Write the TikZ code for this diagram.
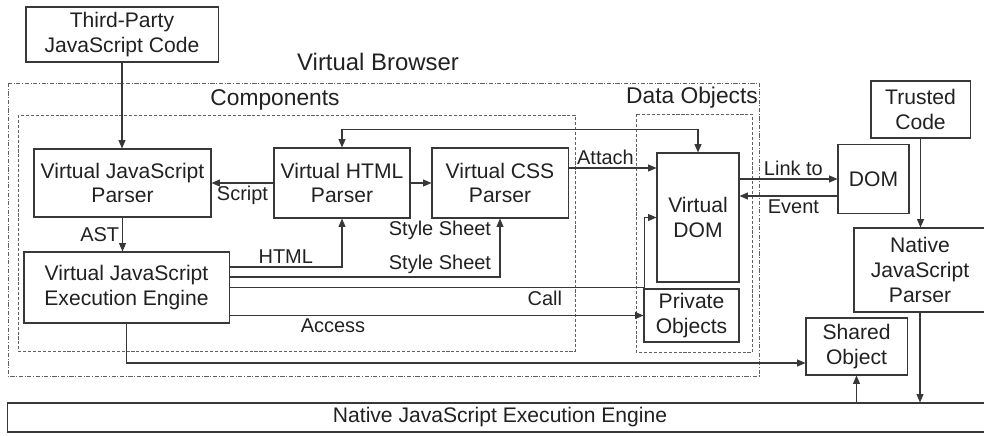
\documentclass[tikz,border=0pt]{standalone}
\usepackage{fontspec}
\setmainfont{Liberation Sans}
\usetikzlibrary{arrows.meta, calc, positioning}
\definecolor{mainBlack}{gray}{0.13}
\definecolor{lineGray}{gray}{0.22}

\begin{document}
\begin{tikzpicture}[x=0.025cm, y=-0.025cm, >={Triangle[length=6pt, width=5pt]},
    box/.style={draw=lineGray, line width=0.75pt, align=center, inner sep=0pt, text=mainBlack, font=\fontsize{15}{17.5}\selectfont},
    lbl/.style={text=mainBlack, font=\fontsize{14.2}{16}\selectfont, inner sep=2pt},
    grp/.style={text=mainBlack, font=\fontsize{16.2}{18}\selectfont},
    conn/.style={->, draw=lineGray, line width=0.75pt}]
    \useasboundingbox (0,0) rectangle (984,435);

    % groups
    \draw[lineGray!80, line width=0.6pt, dash pattern=on 3pt off 1.2pt on 0.6pt off 1.2pt] (8,83) rectangle (759,376);
    \draw[lineGray!80, line width=0.6pt, dash pattern=on 2.2pt off 1.3pt] (18,115) rectangle (575,351);
    \draw[lineGray!80, line width=0.6pt, dash pattern=on 2.2pt off 1.3pt] (636,114) rectangle (752,352);
    \node[grp, font=\fontsize{17}{19}\selectfont] (vbLbl) at (378,62) {Virtual Browser};
    \node[grp] (compLbl) at (275,100) {Components};
    \node[grp] (dataLbl) at (692,98) {Data Objects};

    % boxes
    \node[box, minimum width=4.8cm, minimum height=1.375cm] (tpc) at (122,34.5) {Third-Party\\JavaScript Code};
    \node[box, minimum width=4.425cm, minimum height=1.7cm] (vjsp) at (122.5,183) {Virtual JavaScript\\Parser};
    \node[box, minimum width=3.4cm, minimum height=1.75cm] (vhtml) at (342,183) {Virtual HTML\\Parser};
    \node[box, minimum width=3.4cm, minimum height=1.75cm] (vcss) at (500,183) {Virtual CSS\\Parser};
    \node[box, minimum width=5.125cm, minimum height=1.775cm] (vjee) at (126.5,287.5) {Virtual JavaScript\\Execution Engine};
    \node[box, minimum width=2.05cm, minimum height=3.225cm] (vdom) at (698,217.5) {Virtual\\DOM};
    \node[box, minimum width=2.375cm, minimum height=1.325cm] (priv) at (691.5,315.5) {Private\\Objects};
    \node[box, minimum width=1.775cm, minimum height=1.725cm] (dom) at (873.5,179) {DOM};
    \node[box, minimum width=2.475cm, minimum height=1.425cm] (trusted) at (920.5,109.5) {Trusted\\Code};
    \node[box, minimum width=3.3cm, minimum height=2.1cm] (njsp) at (920,270) {Native\\JavaScript\\Parser};
    \node[box, minimum width=2.525cm, minimum height=1.425cm] (shared) at (856.5,346.5) {Shared\\Object};
    \node[box, minimum width=24.6cm, minimum height=0.725cm] (njee) at (500,417.5) {Native JavaScript Execution Engine};

    % connectors
    \draw[conn] (tpc.south) -- (tpc.south |- vjsp.north);
    \draw[conn] (vhtml.west) -- (vjsp.east) node[lbl, midway, below] {Script};
    \draw[conn] (vhtml.east) -- (vcss.west);
    \draw[conn] (vjsp.south) -- (vjsp.south |- vjee.north) node[lbl, midway, left] {AST};
    \draw[conn] ($(vjee.east)+(0,-20.5)$) -| (vhtml.south) node[lbl, pos=0.25, above] {HTML};
    \draw[conn] ($(vjee.east)+(0,-10.5)$) -| (vcss.south)
        node[lbl, pos=0.5, above left, xshift=-4pt] {Style Sheet}
        node[lbl, pos=0.9, left, xshift=-4pt] {Style Sheet};
    \draw[conn] (vjee.east) -| node[lbl, pos=0.38, below] {Call} ($(vdom.west)+(-12,0)$) -- (vdom.west);
    \draw[conn] ($(vjee.east)+(0,28)$) -- (priv.west) node[lbl, pos=0.25, below] {Access};
    \draw[conn] (vjee.south) |- ($(shared.west)+(0,16.5)$);
    \draw[conn] ($(vcss.east)+(0,-15)$) -- ($(vdom.west |- vcss.east)+(0,-15)$) node[lbl, pos=0.42, above] {Attach};
    \draw[conn, <->] (vhtml.north) -- ++(0,-18) -| (vdom.north);
    \draw[conn] (vdom.east |- dom.west) -- (dom.west) node[lbl, pos=0.55, above] {Link to};
    \draw[conn] ($(dom.west)+(0,17)$) -- ($(vdom.east |- dom.west)+(0,17)$) node[lbl, pos=0.45, below] {Event};
    \draw[conn] (trusted.south) -- (trusted.south |- njsp.north);
    \draw[conn] (njsp.south) -- (njsp.south |- njee.north);
    \draw[conn] (shared.south |- njee.north) -- (shared.south);
\end{tikzpicture}
\end{document}
